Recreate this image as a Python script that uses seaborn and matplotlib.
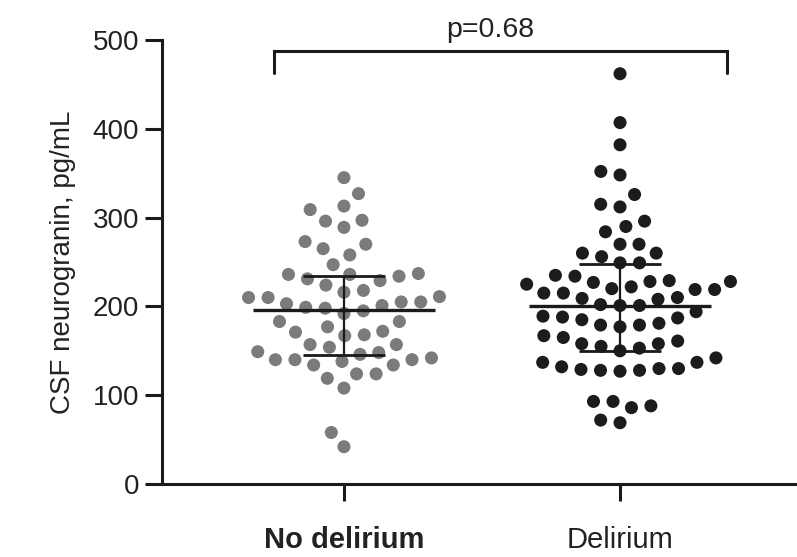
import matplotlib
matplotlib.use('Agg')
import matplotlib.pyplot as plt
import seaborn as sns
import numpy as np
import pandas as pd

# values (pg/mL)
no_delirium = [345, 327, 313, 289, 265, 247, 229, 205, 192, 172, 157, 142, 124, 108, 58, 42,
               309, 296, 273, 258, 216, 199, 171, 148, 134, 119,
               297, 270, 231, 218, 201, 177, 157, 140, 124,
               236, 224, 210, 195, 183, 167, 138,
               234, 198, 183, 168, 149,
               237, 203, 146,
               211, 140,
               236, 210, 134,
               205, 154, 140]
delirium = [462, 407, 382,
            352, 315, 284, 249, 222, 210, 194, 179, 165, 150, 130, 93, 69,
            348, 326, 312, 290, 249, 227, 202, 185, 167, 153, 137, 86, 72,
            296, 270, 256, 220, 208, 189, 158, 142, 127, 88,
            260, 228, 215, 201, 181, 158, 130,
            270, 225, 209, 177, 161, 128, 93,
            260, 229, 215, 201, 187, 155, 129,
            235, 219, 188, 128,
            234, 219, 179, 132,
            228, 137]
groups = ['No delirium', 'Delirium']
medians = [196, 200]
q1 = [145, 150]
q3 = [234, 248]
p_text = 'p=0.68'

df = pd.DataFrame({
    'group': ['No delirium'] * len(no_delirium) + ['Delirium'] * len(delirium),
    'value': no_delirium + delirium,
})

sns.set_style('ticks')
plt.rcParams['font.family'] = ['Liberation Sans', 'DejaVu Sans']

fig = plt.figure(figsize=(7.97, 5.57), dpi=100)
ax = fig.add_axes([162 / 797, 1 - 484 / 557, (797 - 162) / 797, 444 / 557])

# white edge keeps the dots spaced apart like the original column scatter
sns.swarmplot(data=df, x='group', y='value', hue='group', order=groups,
              palette={'No delirium': '#7b7b7b', 'Delirium': '#1c1c1c'},
              size=11.4, linewidth=2.0, edgecolor='white', legend=False,
              ax=ax, zorder=2)

# median and interquartile range
pos = np.arange(len(groups))
ax.hlines(medians, pos - 0.33, pos + 0.33, color='#1a1a1a', lw=2.4, zorder=3)
ax.hlines(q1, pos - 0.15, pos + 0.15, color='#1a1a1a', lw=2.0, zorder=3)
ax.hlines(q3, pos - 0.15, pos + 0.15, color='#1a1a1a', lw=2.0, zorder=3)
ax.vlines(pos, q1, q3, color='#1a1a1a', lw=1.6, zorder=3)

# significance bracket
bx = [-0.254, -0.254, 1.388, 1.388]
by = [463, 487.5, 487.5, 463]
ax.plot(bx, by, color='#1a1a1a', lw=2.2, clip_on=False, solid_joinstyle='miter')
ax.text(0.53, 511, p_text, ha='center', va='center', fontsize=20.5, color='#222222',
        clip_on=False)

ax.set_xlim(-0.659, 1.641)
ax.set_ylim(0, 500)
ax.set_yticks([0, 100, 200, 300, 400, 500])
ax.set_xlabel('')
ax.set_ylabel('CSF neurogranin, pg/mL', fontsize=20, color='#222222', labelpad=12)
ax.tick_params(axis='both', length=12, width=2.2, color='#1a1a1a', labelcolor='#222222')
ax.tick_params(axis='y', labelsize=20, pad=4.5)
ax.tick_params(axis='x', labelsize=21, pad=18)
ax.set_xticks(pos)
ax.set_xticklabels(groups)
ax.get_xticklabels()[0].set_fontweight('bold')

for side in ['top', 'right']:
    ax.spines[side].set_visible(False)
for side in ['left', 'bottom']:
    ax.spines[side].set_linewidth(2.2)
    ax.spines[side].set_color('#1a1a1a')

fig.savefig('out.png', dpi=100)
